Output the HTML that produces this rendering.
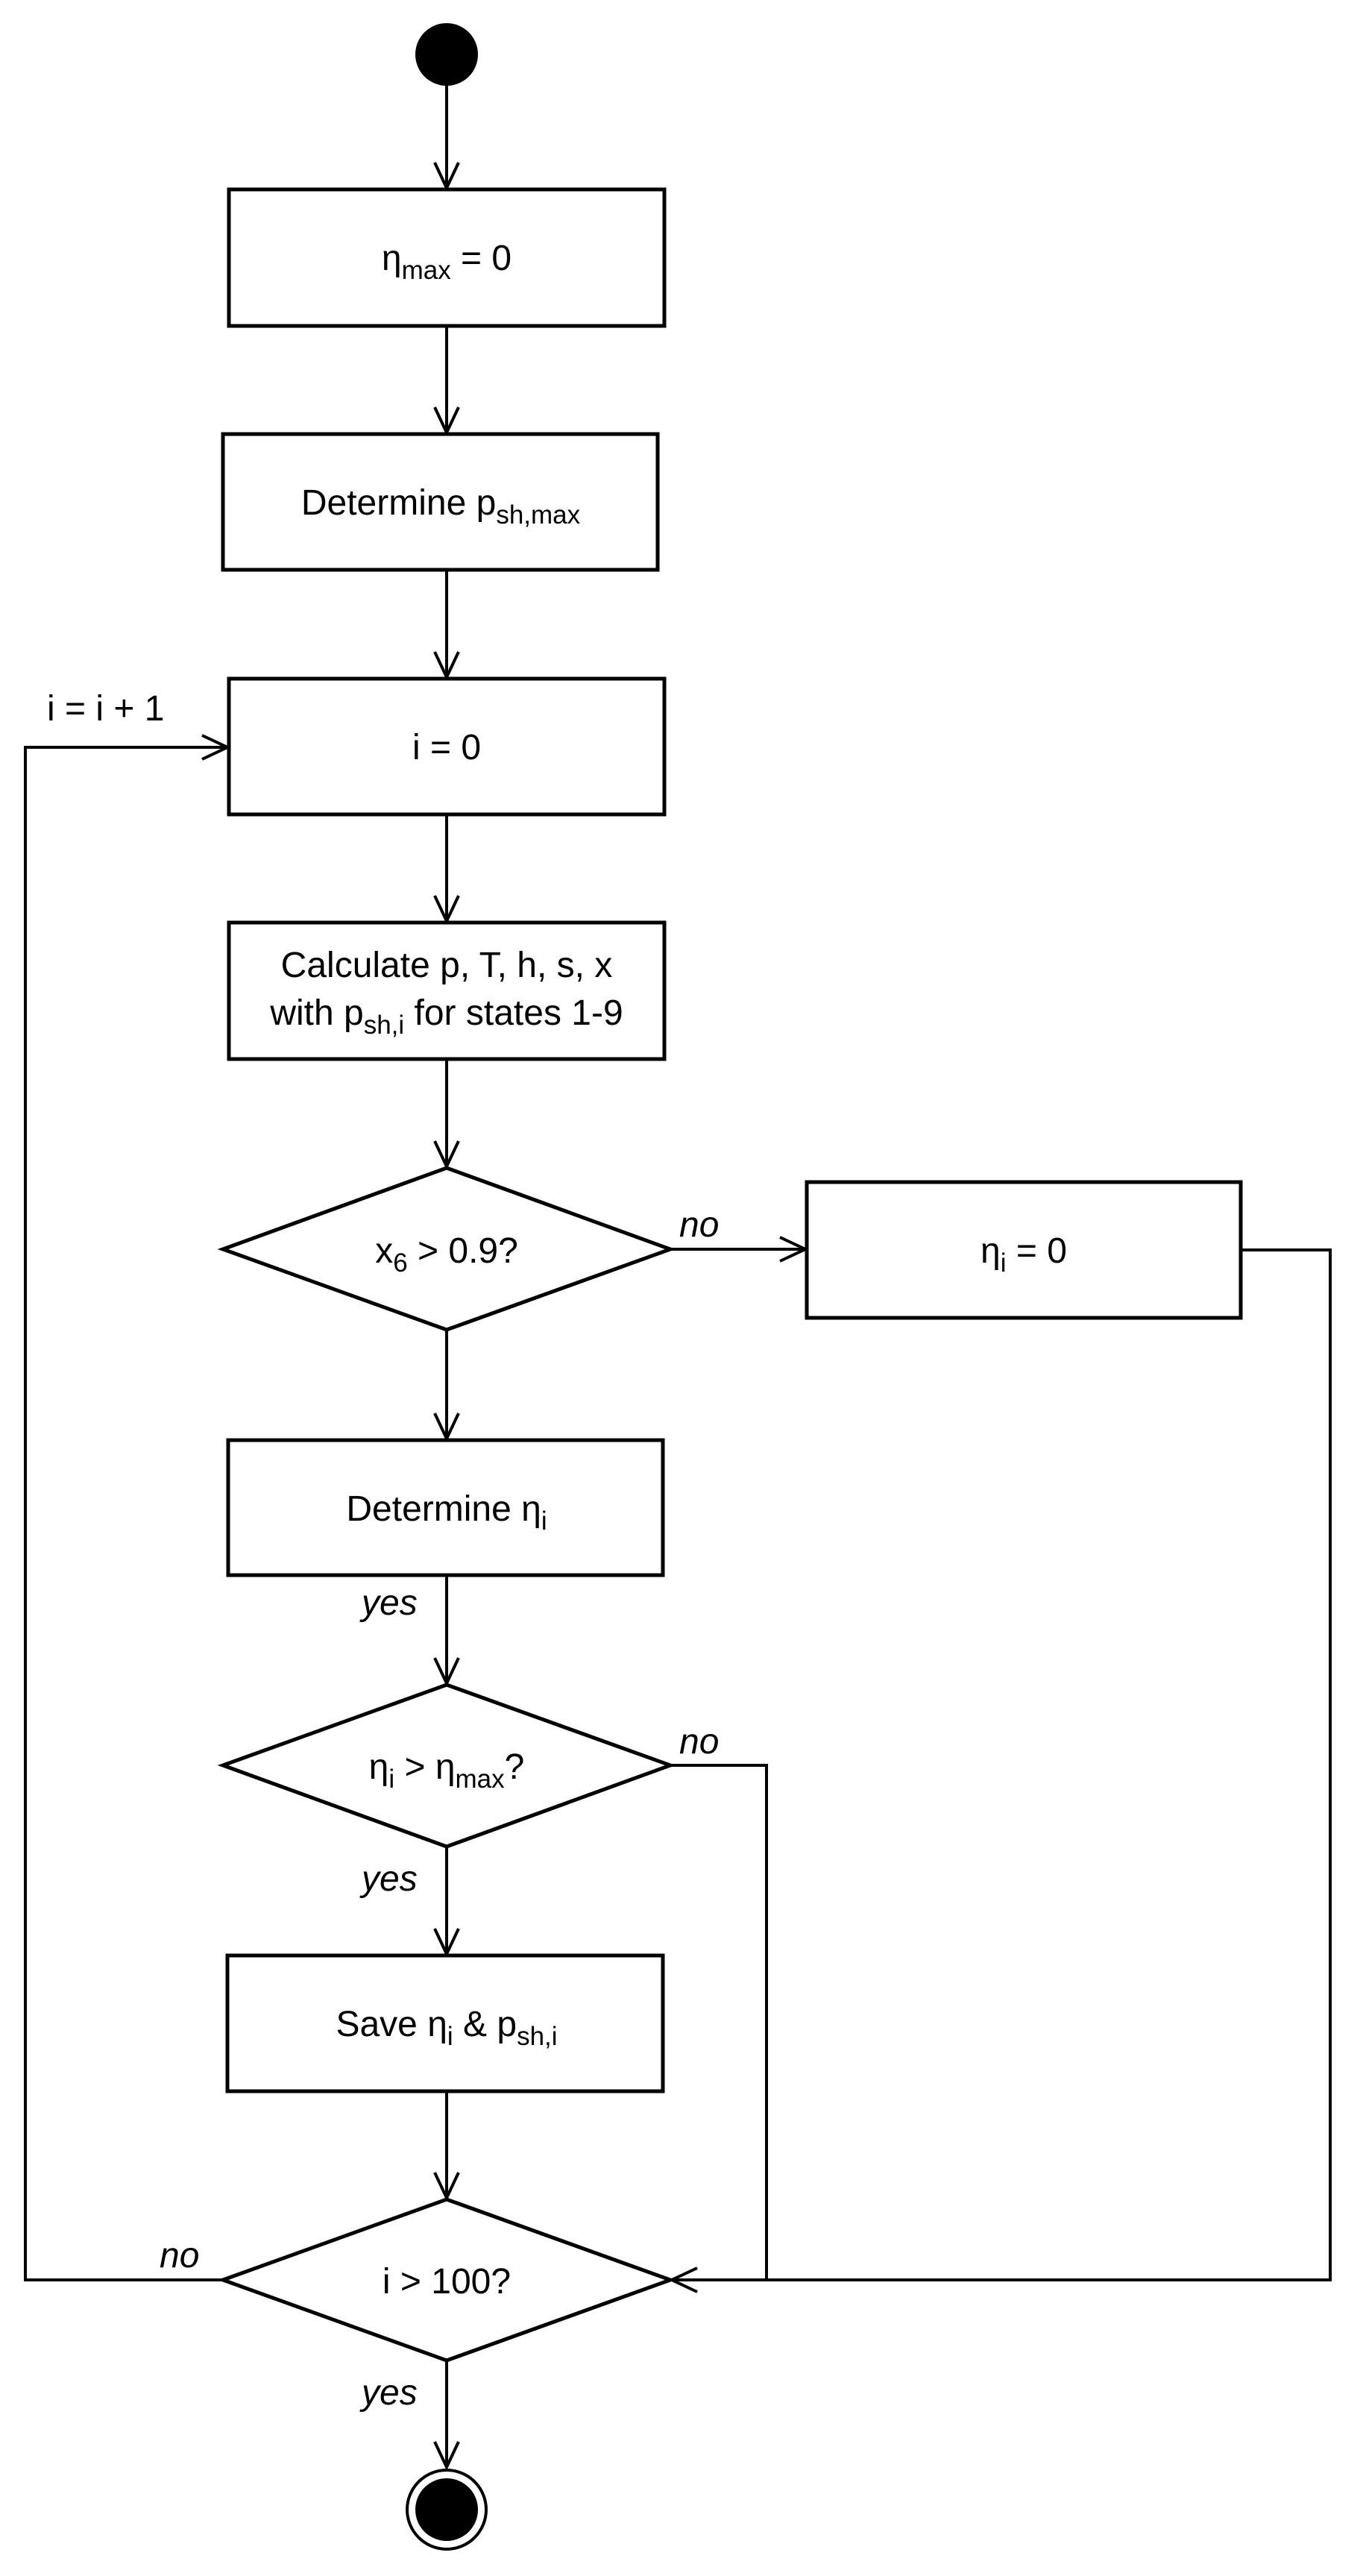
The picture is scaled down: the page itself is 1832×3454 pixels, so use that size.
<!DOCTYPE html>
<html><head><meta charset="utf-8"><style>
html,body{margin:0;padding:0;background:#fff}
svg{display:block}
text{font-family:"Liberation Sans",Arial,sans-serif;font-size:48px;fill:#000}
.it{font-style:italic}
</style></head><body>
<svg width="1832" height="3454" viewBox="0 0 1832 3454" xmlns="http://www.w3.org/2000/svg">
<defs>
<marker id="a" markerWidth="40" markerHeight="40" refX="36" refY="18" orient="auto" markerUnits="userSpaceOnUse">
<path d="M2,2 L36,18 L2,34" fill="none" stroke="#000" stroke-width="4"/>
</marker>
</defs>
<g fill="none" stroke="#000" stroke-width="5">
<rect x="307" y="254" width="584" height="183" fill="#fff"/>
<rect x="299" y="582" width="583" height="182" fill="#fff"/>
<rect x="307" y="910" width="584" height="182" fill="#fff"/>
<rect x="307" y="1237" width="584" height="183" fill="#fff"/>
<polygon points="299,1675 599,1566 899,1675 599,1783" fill="#fff"/>
<rect x="1082" y="1585" width="582" height="182" fill="#fff"/>
<rect x="306" y="1931" width="583" height="181" fill="#fff"/>
<polygon points="299,2367 599,2259 899,2367 599,2476" fill="#fff"/>
<rect x="305" y="2622" width="584" height="182" fill="#fff"/>
<polygon points="299,3057 599,2949 899,3057 599,3165" fill="#fff"/>
</g>
<g fill="none" stroke="#000" stroke-width="4">
<line x1="599" y1="113" x2="599" y2="252" marker-end="url(#a)"/>
<line x1="599" y1="437" x2="599" y2="580" marker-end="url(#a)"/>
<line x1="599" y1="764" x2="599" y2="908" marker-end="url(#a)"/>
<line x1="599" y1="1092" x2="599" y2="1235" marker-end="url(#a)"/>
<line x1="599" y1="1420" x2="599" y2="1564" marker-end="url(#a)"/>
<line x1="599" y1="1783" x2="599" y2="1929" marker-end="url(#a)"/>
<line x1="599" y1="2112" x2="599" y2="2257" marker-end="url(#a)"/>
<line x1="599" y1="2476" x2="599" y2="2620" marker-end="url(#a)"/>
<line x1="599" y1="2804" x2="599" y2="2947" marker-end="url(#a)"/>
<line x1="599" y1="3165" x2="599" y2="3308" marker-end="url(#a)"/>
<line x1="899" y1="1675" x2="1080" y2="1675" marker-end="url(#a)"/>
<polyline points="1664,1676 1784,1676 1784,3057 901,3057" marker-end="url(#a)"/>
<polyline points="899,2367 1028,2367 1028,3057"/>
<polyline points="299,3057 34,3057 34,1002 305,1002" marker-end="url(#a)"/>
</g>
<circle cx="599" cy="73" r="42" fill="#000"/>
<circle cx="599" cy="3365" r="53" fill="#fff" stroke="#000" stroke-width="4"/>
<circle cx="599" cy="3365" r="42" fill="#000"/>

<g text-anchor="middle">
<text x="599" y="362">η<tspan font-size="35" dy="12">max</tspan><tspan dy="-12"> = 0</tspan></text>
<text x="591" y="690">Determine p<tspan font-size="35" dy="12">sh,max</tspan></text>
<text x="599" y="1018">i = 0</text>
<text x="599" y="1310">Calculate p, T, h, s, x</text>
<text x="599" y="1374">with p<tspan font-size="35" dy="12">sh,i</tspan><tspan dy="-12"> for states 1-9</tspan></text>
<text x="599" y="1693">x<tspan font-size="35" dy="12">6</tspan><tspan dy="-12"> &gt; 0.9?</tspan></text>
<text x="1373" y="1693">η<tspan font-size="35" dy="12">i</tspan><tspan dy="-12"> = 0</tspan></text>
<text x="599" y="2039">Determine η<tspan font-size="35" dy="12">i</tspan></text>
<text x="599" y="2385">η<tspan font-size="35" dy="12">i</tspan><tspan dy="-12"> &gt; η</tspan><tspan font-size="35" dy="12">max</tspan><tspan dy="-12">?</tspan></text>
<text x="599" y="2730">Save η<tspan font-size="35" dy="12">i</tspan><tspan dy="-12"> &amp; p</tspan><tspan font-size="35" dy="12">sh,i</tspan></text>
<text x="599" y="3075">i &gt; 100?</text>
</g>
<text x="63" y="966">i = i + 1</text>
<text class="it" x="911" y="1658">no</text>
<text class="it" x="485" y="2165">yes</text>
<text class="it" x="911" y="2351">no</text>
<text class="it" x="485" y="2535">yes</text>
<text class="it" x="214" y="3040">no</text>
<text class="it" x="485" y="3224">yes</text>
</svg>
</body></html>
